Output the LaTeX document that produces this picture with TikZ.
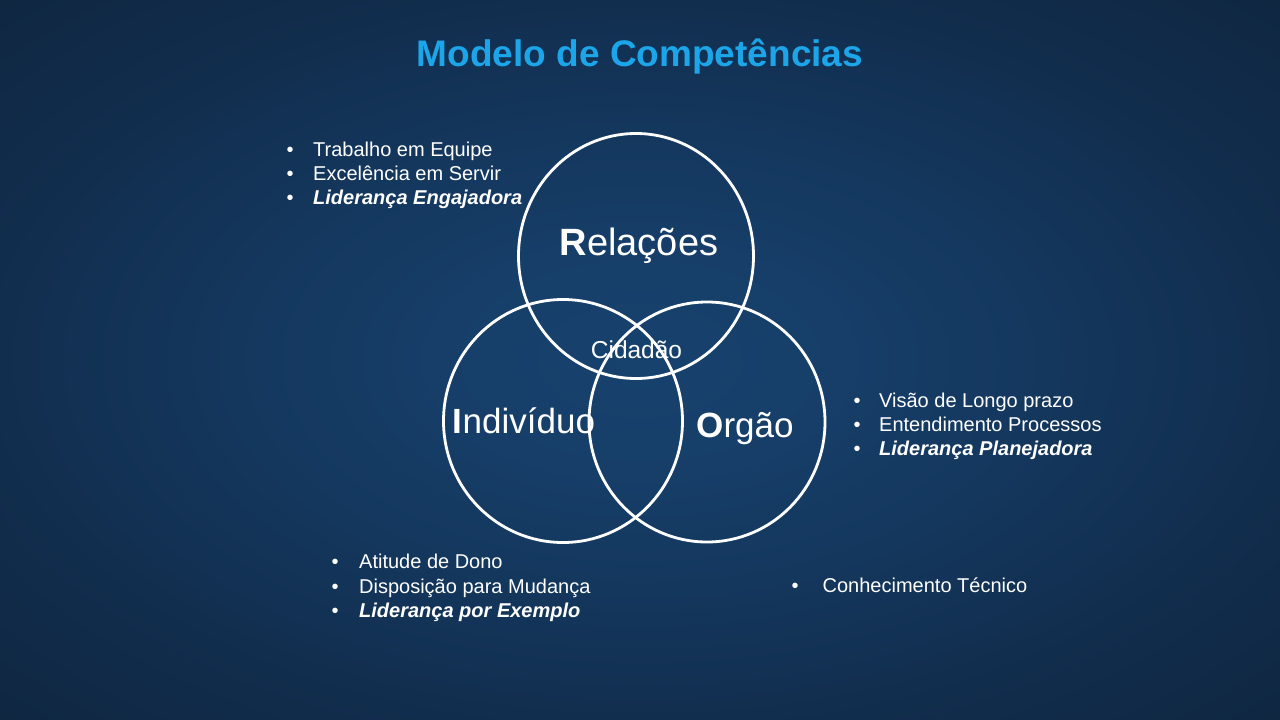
\documentclass[tikz,border=0pt]{standalone}
\usepackage{fontspec}
\setmainfont{Liberation Sans}
\usetikzlibrary{shapes.geometric}
\definecolor{bgA}{RGB}{23,66,110}
\definecolor{bgB}{RGB}{22,62,104}
\definecolor{bgC}{RGB}{20,55,93}
\definecolor{bgD}{RGB}{17,45,77}
\definecolor{bgE}{RGB}{15,38,64}
\definecolor{bgF}{RGB}{13,32,54}
\definecolor{bgG}{RGB}{11,27,46}
\definecolor{titleblue}{RGB}{28,165,232}
\pgfdeclareradialshading{bgshade}{\pgfpoint{0bp}{0bp}}{color(0bp)=(bgA); color(8bp)=(bgB); color(16bp)=(bgC); color(26bp)=(bgD); color(36bp)=(bgE); color(50bp)=(bgF); color(71bp)=(bgG)}
\tikzset{
  circ/.style={ellipse, draw=white, line width=2.8pt, inner sep=0pt},
  lst/.style={anchor=base west, text=white, inner sep=0pt, font=\fontsize{20}{24}\selectfont},
  lbl/.style={anchor=base, text=white, inner sep=0pt},
}
\begin{document}
\begin{tikzpicture}[x=1pt,y=-1pt]
\path[shading=bgshade] (0,0) rectangle (1280,720);
\useasboundingbox (0,0) rectangle (1280,720);

% title
\node[anchor=base, inner sep=0pt, text=titleblue, font=\fontsize{37}{40}\selectfont\bfseries] (title) at (640,66) {Modelo de Competências};

% circles
\node[circ, minimum width=235pt, minimum height=245pt] (rel) at (636,256) {};
\node[circ, minimum width=239pt, minimum height=243pt] (ind) at (563,421) {};
\node[circ, minimum width=236pt, minimum height=240pt] (org) at (707,422) {};

% circle labels
\node[lbl, font=\fontsize{38}{40}\selectfont] (trel) at (639,255) {\textbf{R}elações};
\node[lbl, font=\fontsize{24.5}{28}\selectfont] (tcid) at (636.5,358) {Cidadão};
\node[lbl, font=\fontsize{35}{40}\selectfont] (tind) at (524,433) {\textbf{I}ndivíduo};
\node[lbl, font=\fontsize{35}{40}\selectfont] (torg) at (745,437) {\textbf{O}rgão};

% top-left list
\node[lst] (a1) at (313,156) {\llap{•\hspace{19.5pt}}Trabalho em Equipe};
\node[lst] (a2) at (313,180) {\llap{•\hspace{19.5pt}}Excelência em Servir};
\node[lst] (a3) at (313,204) {\llap{•\hspace{19.5pt}}\textbf{\textit{Liderança Engajadora}}};

% right list
\node[lst] (b1) at (879,407) {\llap{•\hspace{18.5pt}}Visão de Longo prazo};
\node[lst] (b2) at (879,431) {\llap{•\hspace{18.5pt}}Entendimento Processos};
\node[lst] (b3) at (879,455) {\llap{•\hspace{18.5pt}}\textbf{\textit{Liderança Planejadora}}};

% bottom-left list
\node[lst] (c1) at (359,568) {\llap{•\hspace{20.5pt}}Atitude de Dono};
\node[lst] (c2) at (359,593) {\llap{•\hspace{20.5pt}}Disposição para Mudança};
\node[lst] (c3) at (359,617) {\llap{•\hspace{20.5pt}}\textbf{\textit{Liderança por Exemplo}}};

% bottom-right list
\node[lst] (d1) at (822.5,592) {\llap{•\hspace{24pt}}Conhecimento Técnico};
\end{tikzpicture}
\end{document}
